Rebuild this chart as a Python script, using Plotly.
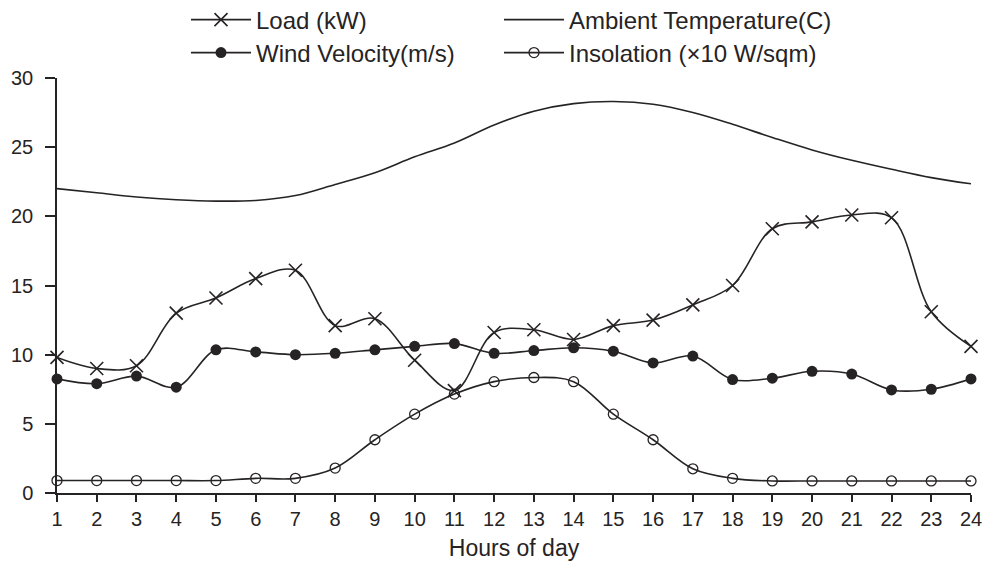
import plotly.graph_objects as go

hours = list(range(1, 25))
load_kw = [9.8, 9.0, 9.2, 13.0, 14.1, 15.5, 16.1, 12.1, 12.6, 9.6, 7.4, 11.6,
           11.8, 11.1, 12.1, 12.5, 13.6, 15.0, 19.1, 19.6, 20.1, 19.9, 13.1, 10.6]
ambient_temp = [22.0, 21.7, 21.4, 21.2, 21.1, 21.15, 21.5, 22.3, 23.15, 24.3, 25.3, 26.6,
                27.6, 28.15, 28.3, 28.1, 27.5, 26.65, 25.7, 24.8, 24.05, 23.4, 22.8, 22.35]
wind_velocity = [8.25, 7.9, 8.45, 7.65, 10.35, 10.2, 10.0, 10.1, 10.35, 10.6, 10.8, 10.1,
                 10.3, 10.5, 10.25, 9.4, 9.9, 8.2, 8.3, 8.8, 8.6, 7.45, 7.5, 8.25]
insolation = [0.9, 0.9, 0.9, 0.9, 0.9, 1.06, 1.06, 1.8, 3.85, 5.7, 7.15, 8.05,
              8.35, 8.05, 5.7, 3.85, 1.75, 1.06, 0.87, 0.87, 0.87, 0.87, 0.87, 0.87]

x_ticks = hours
y_ticks = [0, 5, 10, 15, 20, 25, 30]

INK = "#262324"
FONT = "Liberation Sans, Arial, Helvetica, sans-serif"

fig = go.Figure()

fig.add_trace(go.Scatter(
    x=hours, y=load_kw, name="Load (kW)", mode="lines+markers",
    line=dict(color=INK, width=1.6, shape="spline", smoothing=1.0),
    marker=dict(symbol="x-thin-open", size=13, color=INK, line=dict(color=INK, width=1.6)),
    cliponaxis=False, legend="legend", showlegend=True))

fig.add_trace(go.Scatter(
    x=hours, y=ambient_temp, name="Ambient Temperature(C)", mode="lines",
    line=dict(color=INK, width=1.6, shape="spline", smoothing=1.0),
    cliponaxis=False, legend="legend2", showlegend=True))

fig.add_trace(go.Scatter(
    x=hours, y=wind_velocity, name="Wind Velocity(m/s)", mode="lines+markers",
    line=dict(color=INK, width=1.6, shape="spline", smoothing=1.0),
    marker=dict(symbol="circle", size=11, color=INK),
    cliponaxis=False, legend="legend3", showlegend=True))

fig.add_trace(go.Scatter(
    x=hours, y=insolation, name="Insolation (\u00d710 W/sqm)", mode="lines+markers",
    line=dict(color=INK, width=1.6, shape="spline", smoothing=1.0),
    marker=dict(symbol="circle-open", size=10, color=INK, line=dict(color=INK, width=1.3)),
    cliponaxis=False, legend="legend4", showlegend=True))

L, R, T, B = 57, 18, 78, 68
W, H = 989, 561
pw, ph = W - L - R, H - T - B

def px_x(px):
    return (px - L) / pw

def px_y(py):
    return (H - B - py) / ph

legend_common = dict(
    orientation="h", xanchor="left", yanchor="middle",
    font=dict(family=FONT, size=24, color=INK),
    bgcolor="rgba(0,0,0,0)", itemwidth=60, itemclick=False,
)

COL1, COL2 = 186, 499
ROW1, ROW2 = 20, 53

fig.update_layout(
    width=W, height=H,
    showlegend=True,
    margin=dict(l=L, r=R, t=T, b=B, pad=0, autoexpand=False),
    paper_bgcolor="white", plot_bgcolor="white",
    font=dict(family=FONT, size=20, color=INK),
    legend=dict(x=px_x(COL1), y=px_y(ROW1), **legend_common),
    legend2=dict(x=px_x(COL2), y=px_y(ROW1), **legend_common),
    legend3=dict(x=px_x(COL1), y=px_y(ROW2), **legend_common),
    legend4=dict(x=px_x(COL2), y=px_y(ROW2), **legend_common),
    xaxis=dict(
        range=[1, 24], tickvals=x_ticks, ticktext=[str(v) for v in x_ticks],
        showline=True, linecolor=INK, linewidth=1.5,
        ticks="outside", ticklen=7, tickwidth=1.5, tickcolor=INK,
        showgrid=False, zeroline=False,
        tickfont=dict(family=FONT, size=20, color=INK),
        title=dict(text="Hours of day", font=dict(family=FONT, size=23, color=INK), standoff=11),
    ),
    yaxis=dict(
        range=[0, 30], tickvals=y_ticks, ticktext=[str(v) for v in y_ticks],
        showline=True, linecolor=INK, linewidth=1.5,
        ticks="outside", ticklen=10, tickwidth=1.5, tickcolor=INK,
        showgrid=False, zeroline=False, ticklabelstandoff=8,
        tickfont=dict(family=FONT, size=20, color=INK),
    ),
)

fig.write_html("out.html")
